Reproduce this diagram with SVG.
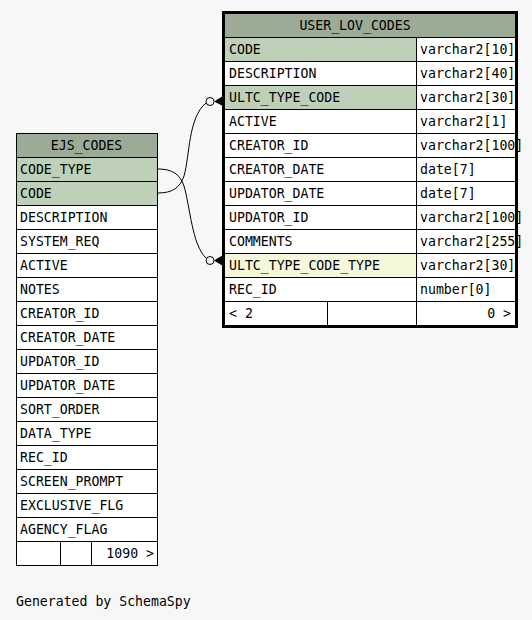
<svg xmlns="http://www.w3.org/2000/svg" width="532" height="620" viewBox="0 0 532 620">
<style>
.t{font-family:"DejaVu Sans Mono","Liberation Mono",monospace;font-size:13.2px;fill:#000}
.c{fill:#fff;stroke:#000;stroke-width:1}
.k{fill:#bed1b8;stroke:#000;stroke-width:1}
.h{fill:#9bab96;stroke:#000;stroke-width:1}
.y{fill:#f4f7da;stroke:#000;stroke-width:1}
.e{fill:none;stroke:#000;stroke-width:1}
</style>
<rect width="532" height="620" fill="#f7f7f7"/>
<g id="connectors">
<path class="e" d="M158,193 C172,193 180,188 184,176 C190,155 188,118 206,103"/>
<circle class="e" cx="210" cy="101.5" r="4" fill="#fff"/>
<polygon points="214,101.5 223,96 223,106" fill="#000"/>
<path class="e" d="M158,169 C172,169 180,174 184,186 C190,206 192,245 206,258"/>
<circle class="e" cx="210" cy="260.5" r="4" fill="#fff"/>
<polygon points="214,260.5 223,255 223,266" fill="#000"/>
</g>
<g id="EJS_CODES">
<rect class="h" x="16.5" y="133.5" width="141" height="24"/>
<text class="t" x="86.5" y="150" text-anchor="middle">EJS_CODES</text>
<rect class="k" x="16.5" y="157.5" width="141" height="24"/>
<text class="t" x="20" y="174">CODE_TYPE</text>
<rect class="k" x="16.5" y="181.5" width="141" height="24"/>
<text class="t" x="20" y="198">CODE</text>
<rect class="c" x="16.5" y="205.5" width="141" height="24"/>
<text class="t" x="20" y="222">DESCRIPTION</text>
<rect class="c" x="16.5" y="229.5" width="141" height="24"/>
<text class="t" x="20" y="246">SYSTEM_REQ</text>
<rect class="c" x="16.5" y="253.5" width="141" height="24"/>
<text class="t" x="20" y="270">ACTIVE</text>
<rect class="c" x="16.5" y="277.5" width="141" height="24"/>
<text class="t" x="20" y="294">NOTES</text>
<rect class="c" x="16.5" y="301.5" width="141" height="24"/>
<text class="t" x="20" y="318">CREATOR_ID</text>
<rect class="c" x="16.5" y="325.5" width="141" height="24"/>
<text class="t" x="20" y="342">CREATOR_DATE</text>
<rect class="c" x="16.5" y="349.5" width="141" height="24"/>
<text class="t" x="20" y="366">UPDATOR_ID</text>
<rect class="c" x="16.5" y="373.5" width="141" height="24"/>
<text class="t" x="20" y="390">UPDATOR_DATE</text>
<rect class="c" x="16.5" y="397.5" width="141" height="24"/>
<text class="t" x="20" y="414">SORT_ORDER</text>
<rect class="c" x="16.5" y="421.5" width="141" height="24"/>
<text class="t" x="20" y="438">DATA_TYPE</text>
<rect class="c" x="16.5" y="445.5" width="141" height="24"/>
<text class="t" x="20" y="462">REC_ID</text>
<rect class="c" x="16.5" y="469.5" width="141" height="24"/>
<text class="t" x="20" y="486">SCREEN_PROMPT</text>
<rect class="c" x="16.5" y="493.5" width="141" height="24"/>
<text class="t" x="20" y="510">EXCLUSIVE_FLG</text>
<rect class="c" x="16.5" y="517.5" width="141" height="24"/>
<text class="t" x="20" y="534">AGENCY_FLAG</text>
<rect class="c" x="16.5" y="541.5" width="141" height="24"/>
<line class="e" x1="60.5" y1="541.5" x2="60.5" y2="565.5"/>
<line class="e" x1="91.5" y1="541.5" x2="91.5" y2="565.5"/>
<text class="t" x="154" y="558" text-anchor="end">1090 &gt;</text>
</g>
<g id="USER_LOV_CODES">
<rect class="h" x="224.5" y="13.5" width="291" height="24"/>
<text class="t" x="355" y="30" text-anchor="middle">USER_LOV_CODES</text>
<rect class="k" x="224.5" y="37.5" width="192" height="24"/>
<rect class="c" x="416.5" y="37.5" width="99" height="24"/>
<text class="t" x="229" y="54">CODE</text>
<text class="t" x="420" y="54">varchar2[10]</text>
<rect class="c" x="224.5" y="61.5" width="192" height="24"/>
<rect class="c" x="416.5" y="61.5" width="99" height="24"/>
<text class="t" x="229" y="78">DESCRIPTION</text>
<text class="t" x="420" y="78">varchar2[40]</text>
<rect class="k" x="224.5" y="85.5" width="192" height="24"/>
<rect class="c" x="416.5" y="85.5" width="99" height="24"/>
<text class="t" x="229" y="102">ULTC_TYPE_CODE</text>
<text class="t" x="420" y="102">varchar2[30]</text>
<rect class="c" x="224.5" y="109.5" width="192" height="24"/>
<rect class="c" x="416.5" y="109.5" width="99" height="24"/>
<text class="t" x="229" y="126">ACTIVE</text>
<text class="t" x="420" y="126">varchar2[1]</text>
<rect class="c" x="224.5" y="133.5" width="192" height="24"/>
<rect class="c" x="416.5" y="133.5" width="99" height="24"/>
<text class="t" x="229" y="150">CREATOR_ID</text>
<text class="t" x="420" y="150">varchar2[100]</text>
<rect class="c" x="224.5" y="157.5" width="192" height="24"/>
<rect class="c" x="416.5" y="157.5" width="99" height="24"/>
<text class="t" x="229" y="174">CREATOR_DATE</text>
<text class="t" x="420" y="174">date[7]</text>
<rect class="c" x="224.5" y="181.5" width="192" height="24"/>
<rect class="c" x="416.5" y="181.5" width="99" height="24"/>
<text class="t" x="229" y="198">UPDATOR_DATE</text>
<text class="t" x="420" y="198">date[7]</text>
<rect class="c" x="224.5" y="205.5" width="192" height="24"/>
<rect class="c" x="416.5" y="205.5" width="99" height="24"/>
<text class="t" x="229" y="222">UPDATOR_ID</text>
<text class="t" x="420" y="222">varchar2[100]</text>
<rect class="c" x="224.5" y="229.5" width="192" height="24"/>
<rect class="c" x="416.5" y="229.5" width="99" height="24"/>
<text class="t" x="229" y="246">COMMENTS</text>
<text class="t" x="420" y="246">varchar2[255]</text>
<rect class="y" x="224.5" y="253.5" width="192" height="24"/>
<rect class="c" x="416.5" y="253.5" width="99" height="24"/>
<text class="t" x="229" y="270">ULTC_TYPE_CODE_TYPE</text>
<text class="t" x="420" y="270">varchar2[30]</text>
<rect class="c" x="224.5" y="277.5" width="192" height="24"/>
<rect class="c" x="416.5" y="277.5" width="99" height="24"/>
<text class="t" x="229" y="294">REC_ID</text>
<text class="t" x="420" y="294">number[0]</text>
<rect class="c" x="224.5" y="301.5" width="291" height="24"/>
<line class="e" x1="327.5" y1="301.5" x2="327.5" y2="325.5"/>
<line class="e" x1="416.5" y1="301.5" x2="416.5" y2="325.5"/>
<text class="t" x="229" y="318">&lt; 2</text>
<text class="t" x="511" y="318" text-anchor="end">0 &gt;</text>
<rect x="223.5" y="12.5" width="293" height="314" fill="none" stroke="#000" stroke-width="3"/>
</g>
<text class="t" x="16" y="606">Generated by SchemaSpy</text>
</svg>
